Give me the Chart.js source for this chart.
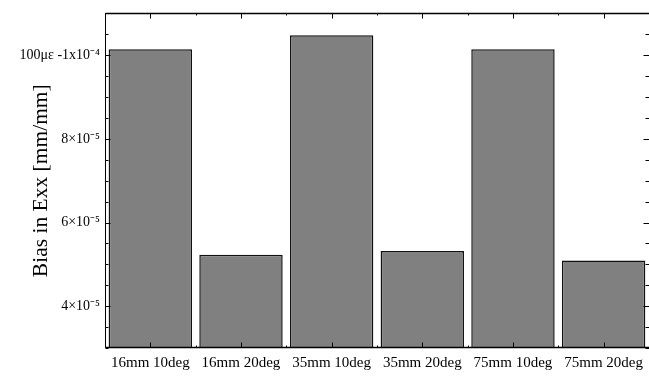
<!DOCTYPE html>
<html>
<head>
<meta charset="utf-8">
<script src="https://cdn.jsdelivr.net/npm/chart.js@4/dist/chart.umd.min.js"></script>
<style>
  html, body { margin: 0; padding: 0; background: #fff; }
  #wrap { width: 649px; height: 377px; }
</style>
</head>
<body>
<div id="wrap"><canvas id="c" width="649" height="377"></canvas></div>
<script>
// Lens / angle configurations
const categories = ['16mm 10deg', '16mm 20deg', '35mm 10deg', '35mm 20deg', '75mm 10deg', '75mm 20deg'];
// Bias in Exx for each configuration [mm/mm]
const biasExx = [1.014e-4, 5.23e-5, 1.048e-4, 5.32e-5, 1.014e-4, 5.09e-5];
// Labelled y ticks
const yTickValues = [4e-5, 6e-5, 8e-5, 1e-4];
const yTickLabels = ['4×10⁻⁵', '6×10⁻⁵', '8×10⁻⁵', '100με -1x10⁻⁴'];
const yMin = 3e-5, yMax = 1.1e-4, yStep = 5e-6;

const serif = '"Liberation Serif", "Times New Roman", serif';

function labelFor(v) {
  for (let i = 0; i < yTickValues.length; i++) {
    if (Math.abs(v - yTickValues[i]) < 1e-9) return yTickLabels[i];
  }
  return '';
}

// Boxed frame with inward tick marks on all four sides
const framePlugin = {
  id: 'frame',
  afterDraw(chart) {
    const ctx = chart.ctx;
    const a = chart.chartArea;
    const xs = chart.scales.x, ys = chart.scales.y;
    const L = Math.round(a.left) + 0.5, R = Math.round(a.right) + 0.5;
    const T = Math.round(a.top) + 0.5, B = Math.round(a.bottom) - 0.5;
    ctx.save();
    ctx.strokeStyle = '#000';
    ctx.lineWidth = 1;
    ctx.beginPath();
    ctx.rect(L, T, R - L, B - T);
    ctx.stroke();
    // slightly heavier top and bottom rules
    ctx.lineWidth = 1.4;
    ctx.beginPath();
    ctx.moveTo(L, T); ctx.lineTo(R, T);
    ctx.moveTo(L, B); ctx.lineTo(R, B);
    ctx.stroke();

    ctx.lineWidth = 1;
    ctx.beginPath();
    // y ticks, left and right
    ys.ticks.forEach(t => {
      const y = Math.round(ys.getPixelForValue(t.value)) + 0.5;
      const len = labelFor(t.value) ? 5 : 3;
      ctx.moveTo(L, y); ctx.lineTo(L + len, y);
      ctx.moveTo(R, y); ctx.lineTo(R - len - 1, y);
    });
    // x ticks at category centres and boundaries, top and bottom
    const n = categories.length;
    for (let i = 0; i < n; i++) {
      const x = Math.round(xs.getPixelForValue(i)) + 0.5;
      ctx.moveTo(x, B); ctx.lineTo(x, B - 5);
      ctx.moveTo(x, T); ctx.lineTo(x, T + 5);
      if (i < n - 1) {
        const xb = Math.round(xs.getPixelForValue(i + 0.5)) + 0.5;
        ctx.moveTo(xb, B); ctx.lineTo(xb, B - 2);
        ctx.moveTo(xb, T); ctx.lineTo(xb, T + 2);
      }
    }
    ctx.stroke();
    ctx.restore();
  }
};

new Chart(document.getElementById('c'), {
  type: 'bar',
  data: {
    labels: categories,
    datasets: [{
      data: biasExx,
      backgroundColor: '#808080',
      borderColor: '#111',
      borderWidth: 1.5,
      borderSkipped: false,
      barPercentage: 0.92,
      categoryPercentage: 1.0
    }]
  },
  options: {
    responsive: false,
    devicePixelRatio: 1,
    animation: false,
    layout: { padding: { top: 11, right: 0, left: 0, bottom: 0 } },
    plugins: { legend: { display: false }, tooltip: { enabled: false } },
    scales: {
      x: {
        type: 'category',
        offset: true,
        grid: { display: false, drawTicks: false },
        border: { display: false },
        ticks: {
          color: '#000',
          font: { family: serif, size: 15 },
          padding: 6,
          maxRotation: 0,
          autoSkip: false
        },
        afterFit(s) { s.height = 29; }
      },
      y: {
        min: yMin,
        max: yMax,
        grid: { display: false, drawTicks: false },
        border: { display: false },
        ticks: {
          stepSize: yStep,
          autoSkip: false,
          color: '#000',
          font: { family: serif, size: 14 },
          padding: 5,
          callback: v => labelFor(v)
        },
        title: {
          display: true,
          text: 'Bias in Exx [mm/mm]',
          color: '#000',
          font: { family: serif, size: 21.5, lineHeight: 1.2 },
          padding: { top: 28, bottom: 0 }
        },
        afterFit(s) { s.width = 105; }
      }
    }
  },
  plugins: [framePlugin]
});
</script>
</body>
</html>
